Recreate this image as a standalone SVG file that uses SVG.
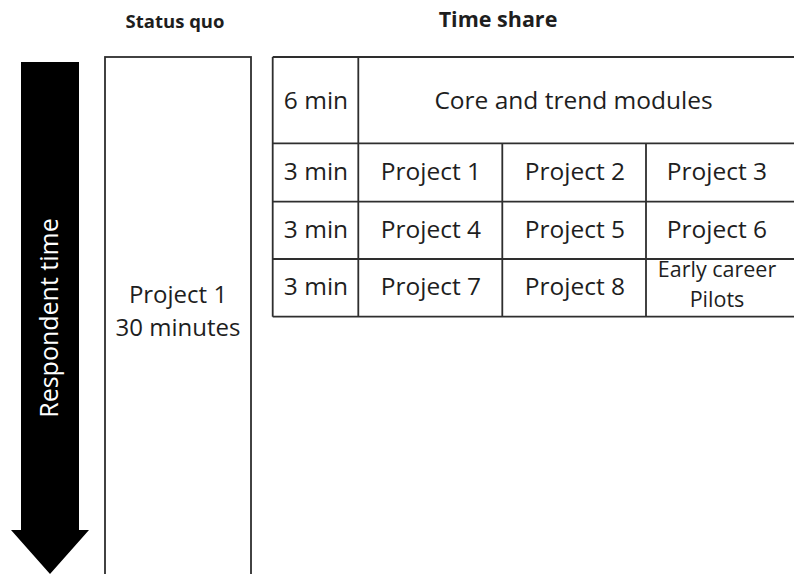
<svg xmlns="http://www.w3.org/2000/svg" width="794" height="574" viewBox="0 0 794 574">
  <style>
    .t { font-family: "Open Sans", "Noto Sans", "DejaVu Sans", sans-serif; fill: #1e1e1e; text-anchor: middle; }
    .c { font-size: 24.5px; }
    .s { font-size: 21.5px; }
    .h { font-weight: bold; }
    .ln { stroke: #2e2e2e; stroke-width: 1.8; fill: none; }
  </style>
  <rect width="794" height="574" fill="#ffffff"/>

  <g id="header-status-quo">
    <text class="t h" x="175" y="28" font-size="18.5">Status quo</text>
  </g>
  <g id="header-time-share">
    <text class="t h" x="498" y="27" font-size="21.5">Time share</text>
  </g>

  <g id="respondent-time-arrow">
    <polygon points="21,62 79,62 79,530 89,530 50,574 11,530 21,530" fill="#000000"/>
    <text class="t" transform="translate(58,318) rotate(-90)" font-size="25" style="fill:#ffffff">Respondent time</text>
  </g>

  <g id="status-quo-box">
    <rect class="ln" x="105" y="57" width="146" height="530"/>
    <text class="t" x="178" y="303" font-size="24">Project 1</text>
    <text class="t" x="178" y="336" font-size="24">30 minutes</text>
  </g>

  <g id="time-share-table">
    <path class="ln" d="M272.7,57 H800 M272.7,143.3 H800 M272.7,201.7 H800 M272.7,259 H800 M272.7,316.7 H800 M272.7,57 V316.7 M358.3,57 V316.7 M502.3,143.3 V316.7 M646,143.3 V316.7"/>
  </g>
  <g id="row-core">
    <text class="t c" x="316" y="109">6 min</text>
    <text class="t c" x="573.5" y="109">Core and trend modules</text>
  </g>
  <g id="row-1">
    <text class="t c" x="316" y="180">3 min</text>
    <text class="t c" x="431" y="180">Project 1</text>
    <text class="t c" x="575" y="180">Project 2</text>
    <text class="t c" x="717" y="180">Project 3</text>
  </g>
  <g id="row-2">
    <text class="t c" x="316" y="238">3 min</text>
    <text class="t c" x="431" y="238">Project 4</text>
    <text class="t c" x="575" y="238">Project 5</text>
    <text class="t c" x="717" y="238">Project 6</text>
  </g>
  <g id="row-3">
    <text class="t c" x="316" y="295">3 min</text>
    <text class="t c" x="431" y="295">Project 7</text>
    <text class="t c" x="575" y="295">Project 8</text>
    <text class="t s" x="717" y="277">Early career</text>
    <text class="t s" x="717" y="306.5">Pilots</text>
  </g>
  <g id="connectors"></g>
</svg>
